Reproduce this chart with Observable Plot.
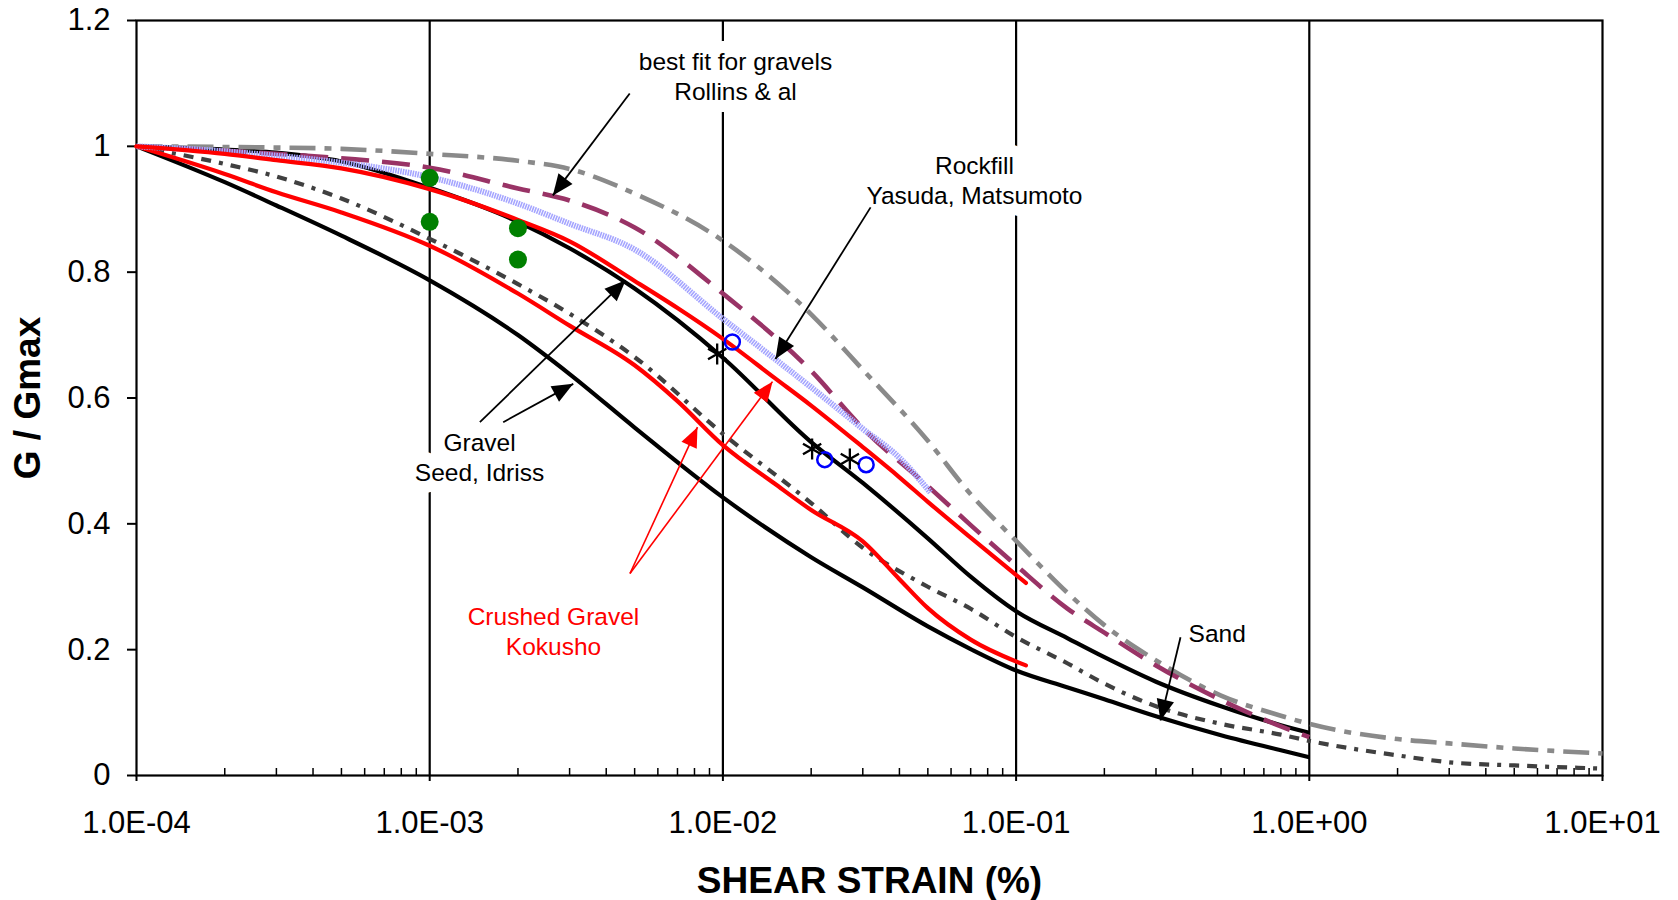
<!DOCTYPE html>
<html>
<head>
<meta charset="utf-8">
<script src="https://cdn.jsdelivr.net/npm/d3@7"></script>
<script src="https://cdn.jsdelivr.net/npm/@observablehq/plot@0.6"></script>
<style>
  html, body { margin: 0; padding: 0; background: #ffffff; }
  #chart svg { display: block; }
</style>
</head>
<body>
<div id="chart"></div>
<script>
// ---------------- DATA ----------------
// Shear strain grids (%)
const strainA = [1e-4, 2e-4, 3e-4, 5e-4, 1e-3, 2e-3, 3e-3, 5e-3, 1e-2, 2e-2, 3e-2, 5e-2, 7e-2, 1e-1, 1.5e-1, 2e-1, 3e-1, 5e-1, 8e-1, 1, 2, 3, 5, 10];
const strainB = [1e-4, 2e-4, 3e-4, 5e-4, 1e-3, 2e-3, 3e-3, 5e-3, 1e-2, 2e-2, 3e-2, 5e-2, 7e-2, 1e-1, 1.5e-1, 2e-1, 3e-1, 5e-1, 8e-1, 1];
const strainRed = [1e-4, 2e-4, 3e-4, 5e-4, 1e-3, 2e-3, 3e-3, 5e-3, 7e-3, 1e-2, 1.5e-2, 2e-2, 3e-2, 4e-2, 5e-2, 7e-2, 0.108];
const strainLav = [1e-4, 2e-4, 3e-4, 5e-4, 1e-3, 2e-3, 3e-3, 5e-3, 1e-2, 2e-2, 3e-2, 4e-2, 5.1e-2];

// G/Gmax curves
const grayDashDotG = [1.000, 0.999, 0.998, 0.996, 0.988, 0.977, 0.964, 0.925, 0.850, 0.733, 0.645, 0.532, 0.447, 0.373, 0.290, 0.239, 0.183, 0.127, 0.095, 0.082, 0.058, 0.051, 0.043, 0.035];
const sandDottedG  = [1.000, 0.972, 0.952, 0.917, 0.853, 0.781, 0.734, 0.665, 0.543, 0.433, 0.362, 0.300, 0.265, 0.220, 0.178, 0.146, 0.110, 0.082, 0.065, 0.055, 0.032, 0.021, 0.016, 0.011];
const rockfillDashG = [1.000, 0.993, 0.988, 0.981, 0.966, 0.933, 0.914, 0.871, 0.766, 0.643, 0.552, 0.460, 0.398, 0.334, 0.265, 0.227, 0.175, 0.120, 0.078, 0.061];
const gravelUpperG = [1.000, 0.995, 0.990, 0.976, 0.934, 0.880, 0.838, 0.774, 0.664, 0.530, 0.465, 0.377, 0.316, 0.261, 0.218, 0.188, 0.149, 0.110, 0.080, 0.068];
const gravelLowerG = [1.000, 0.943, 0.906, 0.858, 0.787, 0.700, 0.638, 0.553, 0.442, 0.347, 0.299, 0.237, 0.201, 0.167, 0.140, 0.121, 0.094, 0.064, 0.040, 0.029];
const crushedUpperG = [1.000, 0.988, 0.978, 0.965, 0.932, 0.883, 0.849, 0.786, 0.743, 0.694, 0.632, 0.588, 0.522, 0.474, 0.435, 0.378, 0.306];
const crushedLowerG = [1.000, 0.956, 0.927, 0.895, 0.842, 0.766, 0.715, 0.652, 0.595, 0.525, 0.464, 0.422, 0.372, 0.312, 0.266, 0.216, 0.175];
const rollinsFitG  = [1.000, 0.992, 0.985, 0.974, 0.951, 0.909, 0.877, 0.836, 0.726, 0.617, 0.551, 0.505, 0.450];

// Measured points
const greenStrain = [1e-3, 1e-3, 2e-3, 2e-3];
const greenG      = [0.95, 0.88, 0.87, 0.82];
const blueStrain  = [1.077e-2, 2.225e-2, 3.08e-2];
const blueG       = [0.689, 0.502, 0.494];
const starStrain  = [9.56e-3, 2.015e-2, 2.71e-2];
const starG       = [0.670, 0.519, 0.503];

// Annotations
const noteText   = ["best fit for gravels\nRollins & al", "Rockfill\nYasuda, Matsumoto", "Gravel\nSeed, Idriss", "Crushed Gravel\nKokusho", "Sand"];
const noteStrain = [1.104e-2, 7.21e-2, 1.479e-3, 2.643e-3, 0.485];
const noteG      = [1.1125, 0.947, 0.507, 0.2305, 0.2278];
const noteColor  = ["black", "black", "black", "red", "black"];

// Arrows (start -> tip)
const arrowX1 = [4.81e-3, 3.19e-2, 1.483e-3, 1.781e-3, 4.82e-3, 4.82e-3, 0.3637];
const arrowY1 = [1.084, 0.903, 0.5615, 0.5615, 0.321, 0.321, 0.2198];
const arrowX2 = [2.63e-3, 1.511e-2, 4.66e-3, 3.087e-3, 8.19e-3, 1.476e-2, 0.3108];
const arrowY2 = [0.922, 0.662, 0.787, 0.6225, 0.5536, 0.626, 0.0874];
const arrowColor = ["black", "black", "black", "black", "red", "red", "black"];

// Axes
const xMajorTicks = [1e-4, 1e-3, 1e-2, 1e-1, 1, 10];
const xGridLines  = [1e-3, 1e-2, 1e-1, 1];
const yTicks = [0, 0.2, 0.4, 0.6, 0.8, 1, 1.2];
const xTitle = "SHEAR STRAIN (%)";
const yTitle = "G / Gmax";

// ---------------- BUILD ----------------
const W = 1678, H = 900;
const ML = 136, MR = 76, MT = 20, MB = 125;
const FONT = "'Liberation Sans', Arial, Helvetica, sans-serif";

const pts = (xs, ys) => xs.map((x, i) => ({x, y: ys[i]}));

const xMinorTicks = [];
for (let i = 0; i < xMajorTicks.length - 1; i++) {
  for (let k = 2; k <= 9; k++) xMinorTicks.push(k * xMajorTicks[i]);
}
const fmtExp = d => {
  const e = Math.round(Math.log10(d));
  return "1.0E" + (e < 0 ? "-" : "+") + String(Math.abs(e)).padStart(2, "0");
};

const xOpts = {type: "log", domain: [1e-4, 10], label: null};
const yOpts = {domain: [0, 1.2], label: null};

// standalone scales (same as the plot's) to orient arrowheads
const sx = Plot.scale({x: {...xOpts, range: [ML, W - MR]}});
const sy = Plot.scale({y: {...yOpts, range: [H - MB, MT]}});

const arrows = arrowX1.map((x1, i) => {
  const X1 = sx.apply(x1), Y1 = sy.apply(arrowY1[i]);
  const X2 = sx.apply(arrowX2[i]), Y2 = sy.apply(arrowY2[i]);
  const angle = Math.atan2(X2 - X1, -(Y2 - Y1)) * 180 / Math.PI;
  return {x1, y1: arrowY1[i], x2: arrowX2[i], y2: arrowY2[i], color: arrowColor[i], angle};
});

const headSymbol = {
  draw(ctx, size) {
    const r = Math.sqrt(size / Math.PI);
    const L = r, w = r * 0.42;
    ctx.moveTo(0, 0);
    ctx.lineTo(-w, L);
    ctx.lineTo(w, L);
    ctx.closePath();
  }
};

const notes = noteText.map((t, i) => ({text: t, x: noteStrain[i], y: noteG[i], color: noteColor[i]}));
const noteStyle = {x: "x", y: "y", text: "text", fontSize: 24.5, lineHeight: 1.2, lineAnchor: "middle", textAnchor: "middle"};

const lineStyle = {x: "x", y: "y", curve: "monotone-x", strokeLinecap: "butt", strokeLinejoin: "round"};

const marks = [
  Plot.ruleX(xGridLines, {stroke: "black", strokeWidth: 2.2}),
  Plot.frame({stroke: "black", strokeWidth: 2.2}),
  Plot.axisY({ticks: yTicks, tickFormat: d => String(d), tickSize: 9, tickPadding: 17, strokeWidth: 2, fontSize: 31, label: null}),
  Plot.axisX({ticks: xMajorTicks, tickFormat: fmtExp, tickSize: 6, tickPadding: 29, strokeWidth: 2, fontSize: 31, label: null}),
  Plot.axisX({ticks: xMinorTicks, tickFormat: () => "", tickSize: -7, tickPadding: 0, strokeWidth: 1.5, label: null}),

  // curves
  Plot.line(pts(strainA, sandDottedG), {...lineStyle, stroke: "#404040", strokeWidth: 4.2, strokeDasharray: "10,8,10,8,4,8"}),
  Plot.line(pts(strainB, gravelLowerG), {...lineStyle, stroke: "black", strokeWidth: 4.2}),
  Plot.line(pts(strainB, gravelUpperG), {...lineStyle, stroke: "black", strokeWidth: 4.2}),
  Plot.line(pts(strainRed, crushedLowerG), {...lineStyle, stroke: "#ff0000", strokeWidth: 4.2, strokeLinecap: "round"}),
  Plot.line(pts(strainA, grayDashDotG), {...lineStyle, stroke: "#8a8a8a", strokeWidth: 4.6, strokeDasharray: "26,9,7,9"}),
  Plot.line(pts(strainB, rockfillDashG), {...lineStyle, stroke: "#993366", strokeWidth: 4.6, strokeDasharray: "28,13"}),
  Plot.line(pts(strainLav, rollinsFitG), {...lineStyle, stroke: "#a5a5ff", strokeWidth: 6, strokeDasharray: "1.6,0.9"}),
  Plot.line(pts(strainRed, crushedUpperG), {...lineStyle, stroke: "#ff0000", strokeWidth: 4.2, strokeLinecap: "round"}),

  // measured points
  Plot.dot(pts(greenStrain, greenG), {x: "x", y: "y", r: 9, fill: "#008000", stroke: "none"}),
  Plot.dot(pts(blueStrain, blueG), {x: "x", y: "y", r: 7.5, fill: "none", stroke: "#0000ff", strokeWidth: 2.5}),
  Plot.dot(pts(starStrain, starG), {x: "x", y: "y", r: 10, symbol: "asterisk", stroke: "black", strokeWidth: 2.3}),

  // annotation text boxes (white background), then the text itself
  Plot.text(notes, {...noteStyle, fill: "white", stroke: "white", strokeWidth: 24, strokeLinejoin: "round"}),
  Plot.text(notes.filter(d => d.color === "black"), {...noteStyle, fill: "black"}),
  Plot.text(notes.filter(d => d.color === "red"), {...noteStyle, fill: "#ff0000"}),

  // arrows
  Plot.link(arrows.filter(d => d.color === "black"), {x1: "x1", y1: "y1", x2: "x2", y2: "y2", stroke: "black", strokeWidth: 1.8}),
  Plot.link(arrows.filter(d => d.color === "red"), {x1: "x1", y1: "y1", x2: "x2", y2: "y2", stroke: "#ff0000", strokeWidth: 1.6}),
  Plot.dot(arrows.filter(d => d.color === "black"), {x: "x2", y: "y2", rotate: "angle", symbol: headSymbol, r: 21, fill: "black", stroke: "none"}),
  Plot.dot(arrows.filter(d => d.color === "red"), {x: "x2", y: "y2", rotate: "angle", symbol: headSymbol, r: 20, fill: "#ff0000", stroke: "none"}),

  // axis titles
  Plot.text([xTitle], {text: d => d, frameAnchor: "bottom", dy: 106, textAnchor: "middle", lineAnchor: "middle", fontSize: 37, fontWeight: "bold", fill: "black"}),
  Plot.text([yTitle], {text: d => d, frameAnchor: "left", dx: -108, rotate: -90, textAnchor: "middle", lineAnchor: "middle", fontSize: 37, fontWeight: "bold", fill: "black"})
];

const chart = Plot.plot({
  width: W,
  height: H,
  marginLeft: ML,
  marginRight: MR,
  marginTop: MT,
  marginBottom: MB,
  x: xOpts,
  y: yOpts,
  style: {fontFamily: FONT, fontSize: "31px", background: "white", color: "black", overflow: "visible"},
  marks
});

document.getElementById("chart").appendChild(chart);
</script>
</body>
</html>
